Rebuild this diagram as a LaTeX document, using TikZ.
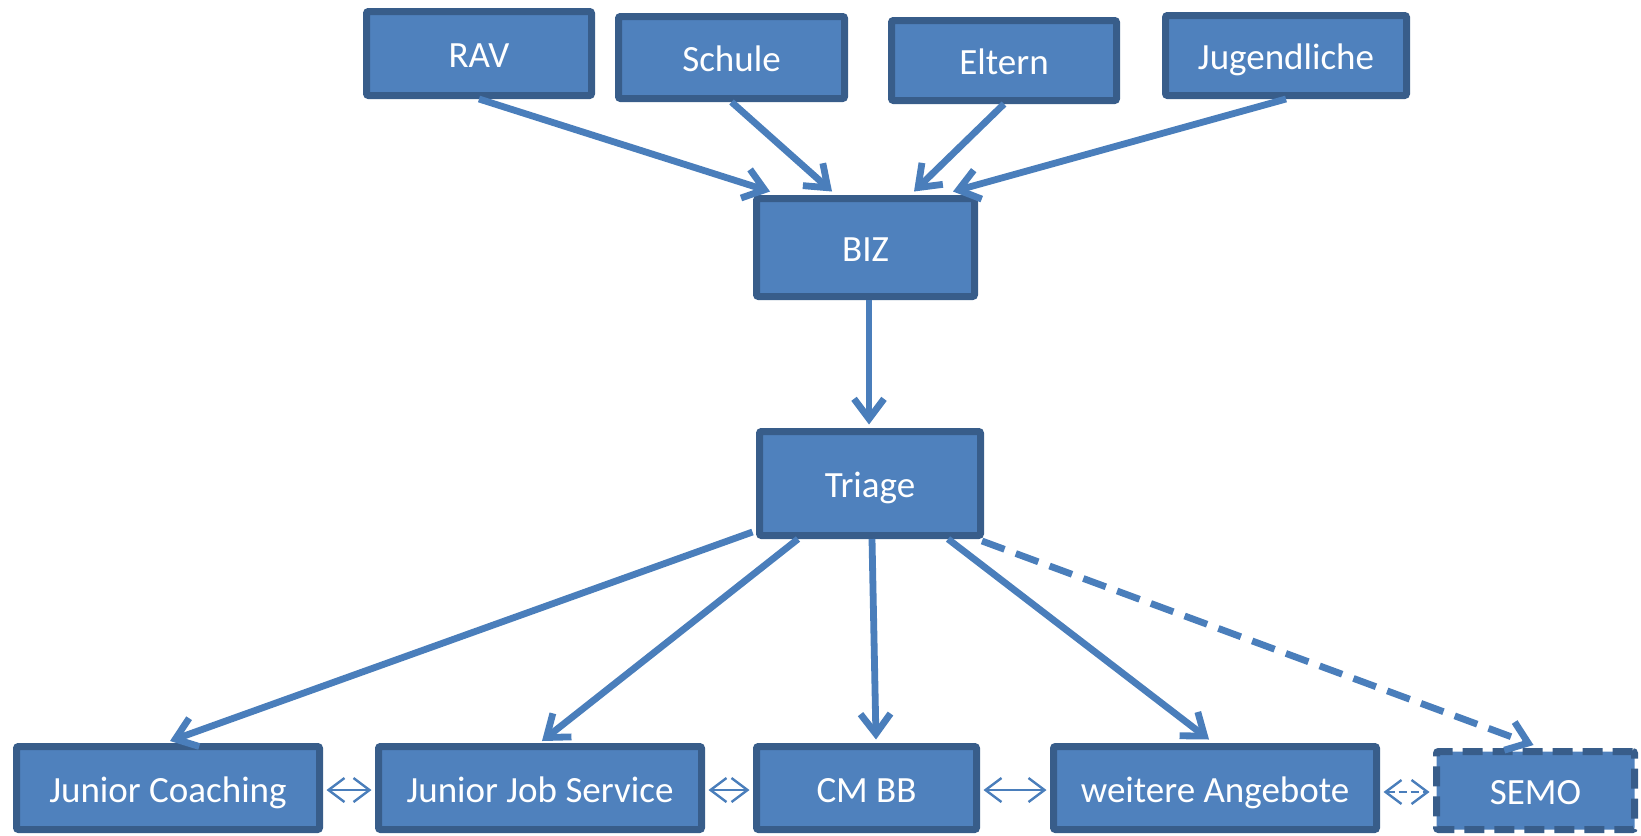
\documentclass[tikz,border=0pt]{standalone}
\usepackage{fontspec}
\setmainfont{Carlito}
\usetikzlibrary{arrows.meta}
\definecolor{boxfill}{HTML}{4F81BD}
\definecolor{boxline}{HTML}{385D8A}
\definecolor{arrowc}{HTML}{4A7EBB}
\tikzset{
  box/.style={draw=boxline, fill=boxfill, line width=3.5pt, rounded corners=1pt,
    inner sep=0pt, text=white, font=\fontsize{18.5}{22}\selectfont,
    text height=17.5pt, text depth=3.5pt},
  semobox/.style={box, dash pattern=on 10pt off 5pt},
  flow/.style={draw=arrowc, line width=3.4pt, -{Straight Barb[length=10pt,width=15pt]}},
  dflow/.style={flow, dash pattern=on 12pt off 6pt},
  link/.style={draw=arrowc, line width=1.2pt, {Straight Barb[length=8pt,width=12pt]}-{Straight Barb[length=8pt,width=12pt]}},
  dlink/.style={link, dash pattern=on 4pt off 2pt}
}
\begin{document}
\begin{tikzpicture}[x=0.5pt,y=-0.5pt]
\useasboundingbox (0,0) rectangle (1641,835);
% top row
\node[box, minimum width=112.5pt, minimum height=42pt] (rav) at (479,53.5) {RAV};
\node[box, minimum width=113pt, minimum height=41pt] (schule) at (731.5,57.5) {Schule};
\node[box, minimum width=112.5pt, minimum height=40pt] (eltern) at (1004,60.5) {Eltern};
\node[box, minimum width=120.5pt, minimum height=40pt] (jug) at (1286,55.5) {Jugendliche};
% middle
\node[box, minimum width=109pt, minimum height=49pt] (biz) at (865.5,247.5) {BIZ};
\node[box, minimum width=110.5pt, minimum height=52pt] (triage) at (870,483.5) {Triage};
% bottom row
\node[box, minimum width=151.5pt, minimum height=41.5pt] (jc) at (168,788) {Junior Coaching};
\node[box, minimum width=161.5pt, minimum height=41.5pt] (jjs) at (540,788) {Junior Job Service};
\node[box, minimum width=110pt, minimum height=41.5pt] (cm) at (866.5,788) {CM BB};
\node[box, minimum width=161.5pt, minimum height=41.5pt] (wa) at (1215,788) {weitere Angebote};
\node[semobox, minimum width=99pt, minimum height=39pt] (semo) at (1535.5,790.5) {SEMO};
% top arrows
\draw[flow] (rav.south) -- ([xshift=-47.75pt,yshift=1.75pt]biz.north);
\draw[flow] (schule.south) -- ([xshift=-16.75pt,yshift=1.75pt]biz.north);
\draw[flow] (eltern.south) -- ([xshift=24.25pt,yshift=1.75pt]biz.north);
\draw[flow] (jug.south) -- ([xshift=43.75pt,yshift=1.75pt]biz.north);
\draw[flow] ([xshift=1.75pt]biz.south) -- ([xshift=-0.5pt,yshift=1.75pt]triage.north);
% triage arrows
\draw[flow] ([xshift=-1.75pt,yshift=3.5pt]triage.south west) -- ([xshift=1pt,yshift=1pt]jc.north);
\draw[flow] ([xshift=-36pt]triage.south) -- ([xshift=1pt,yshift=1pt]jjs.north);
\draw[flow] ([xshift=1pt]triage.south) -- ([xshift=4.75pt,yshift=1.75pt]cm.north);
\draw[flow] ([xshift=39pt]triage.south) -- ([xshift=-3pt,yshift=1.75pt]wa.north);
\draw[dflow] ([xshift=-1pt,yshift=-1pt]triage.south east) -- ([xshift=-1pt,yshift=1.5pt]semo.north);
% horizontal links
\draw[link] ([xshift=1.75pt,yshift=-1pt]jc.east) -- ([xshift=-1.75pt,yshift=-1pt]jjs.west);
\draw[link] ([xshift=1.75pt,yshift=-1pt]jjs.east) -- ([xshift=-1.75pt,yshift=-1pt]cm.west);
\draw[link] ([xshift=1.75pt,yshift=-1pt]cm.east) -- ([xshift=-1.75pt,yshift=-1pt]wa.west);
\draw[dlink] ([xshift=1.75pt,yshift=-2pt]wa.east) -- ([xshift=-1.75pt,yshift=-0.75pt]semo.west);
\end{tikzpicture}
\end{document}
